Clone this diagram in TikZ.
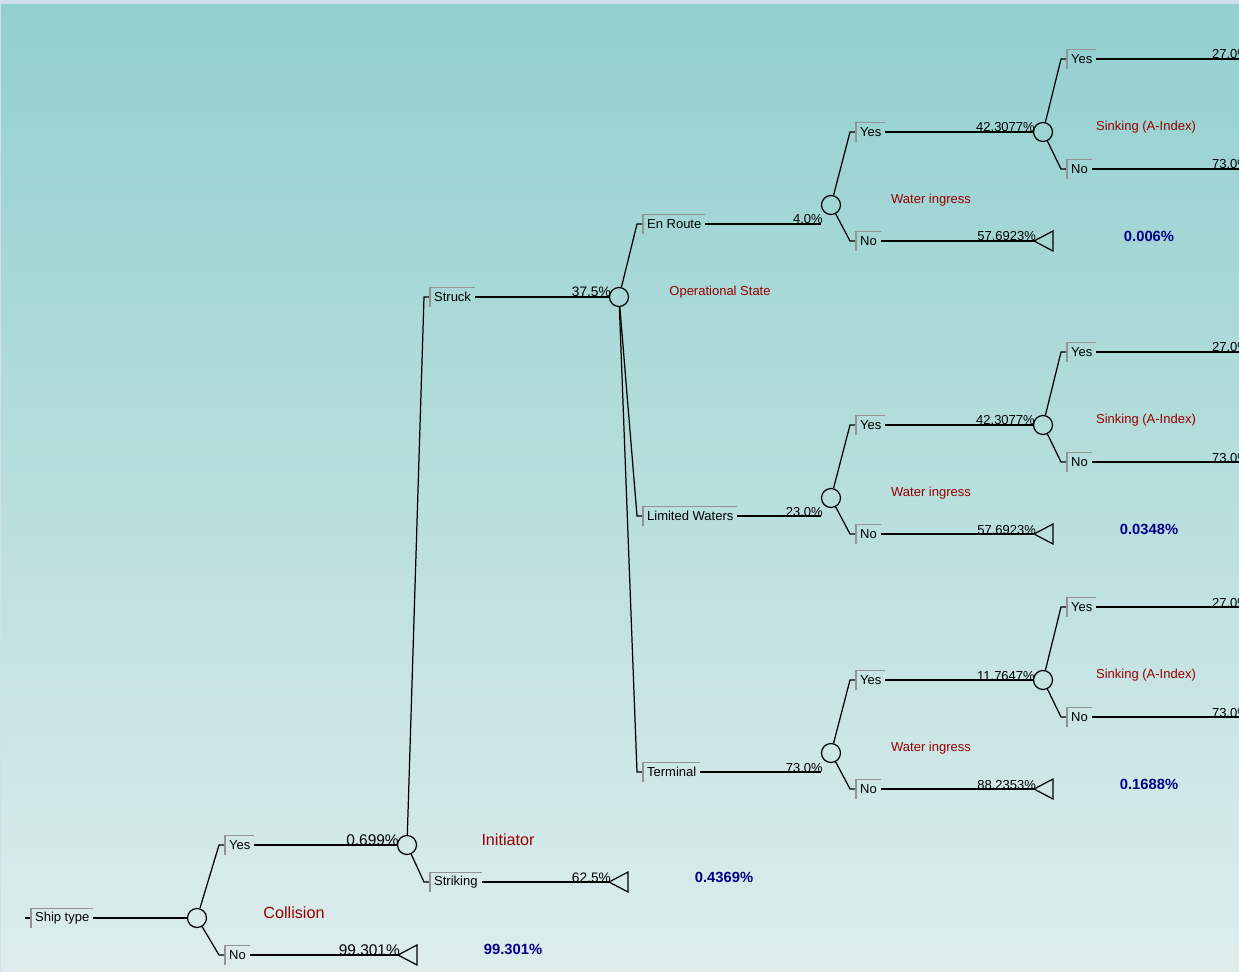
\documentclass[tikz,border=0pt]{standalone}
\usepackage{fontspec}
\setmainfont{Liberation Sans}
\definecolor{bgtop}{HTML}{92CFCF}
\definecolor{bgbot}{HTML}{DDEDEC}
\definecolor{frame}{HTML}{D0DFEE}
\definecolor{evred}{HTML}{990000}
\definecolor{resblue}{HTML}{000088}
\tikzset{
  chance/.style={circle, draw, minimum size=0.38cm, inner sep=0pt},
  brlabel/.style={font=\fontsize{7.4}{8}\selectfont, inner xsep=2pt, inner ysep=0pt, minimum height=0.36cm, anchor=west},
  bracket/.style={draw=gray!85, line width=0.6pt},
  pct/.style={font=\fontsize{7.4}{8}\selectfont, inner sep=0.3pt, anchor=base east, xshift=1.7pt},
  bigpct/.style={pct, font=\fontsize{8.8}{10}\selectfont},
  event/.style={text=evred, font=\fontsize{7.4}{9}\selectfont},
  bigevent/.style={event, font=\fontsize{9.2}{11}\selectfont},
  result/.style={text=resblue, font=\bfseries\fontsize{8.4}{10}\selectfont},
}
\begin{document}
\begin{tikzpicture}[x=0.02cm, y=-0.02cm, line width=0.7pt]
  \useasboundingbox (0,0) rectangle (1239,972);
  \clip (0,0) rectangle (1239,972);
  \fill[top color=bgtop, bottom color=bgbot] (0,0) rectangle (1239,972);
  \fill[frame] (0,0) rectangle (1239,4);
  \fill[frame] (0,0) rectangle (1,972);

  % collision
  \node[brlabel] (ship) at (31,918) {Ship type};
  \node[chance] (c0) at (197,918) {};
  \node[brlabel] (cy) at (225,845) {Yes};
  \node[brlabel] (cn) at (225,955) {No};
  \node[chance] (c1) at (407,845) {};
  \coordinate (t0) at (398,955);
  \draw ([xshift=-1.2mm]ship.west) -- (ship.west);
  \draw (ship) -- (c0);
  \draw (c0) -- ([xshift=-1.2mm]cy.west) -- (cy.west);
  \draw (c0) -- ([xshift=-1.2mm]cn.west) -- (cn.west);
  \draw (cy) -- (c1);
  \draw (cn) -- (t0);
  \draw (t0) -- ++(19,-10) -- ++(0,20) -- cycle;
  \node[bigpct] (pcy) at (c1.west) {0.699\%};
  \node[bigpct] (pcn) at (t0) {99.301\%};
  \node[bigevent] (ev0) at (294,913) {Collision};
  \node[result] (r0) at (513,949) {99.301\%};

  % initiator
  \node[brlabel] (struck) at (430,297) {Struck};
  \node[brlabel] (striking) at (430,882) {Striking};
  \node[chance] (c2) at (619,297) {};
  \coordinate (t1) at (609,882);
  \draw (c1) -- ([xshift=-1.2mm]struck.west) -- (struck.west);
  \draw (c1) -- ([xshift=-1.2mm]striking.west) -- (striking.west);
  \draw (struck) -- (c2);
  \draw (striking) -- (t1);
  \draw (t1) -- ++(19,-10) -- ++(0,20) -- cycle;
  \node[pct, font=\fontsize{7.8}{9}\selectfont] (pst) at (c2.west) {37.5\%};
  \node[pct, font=\fontsize{7.8}{9}\selectfont] (psg) at (t1) {62.5\%};
  \node[bigevent] (ev1) at (508,840) {Initiator};
  \node[result] (r1) at (724,877) {0.4369\%};

  % operational state
  \node[brlabel] (enr) at (643,224) {En Route};
  \node[brlabel] (lim) at (643,516) {Limited Waters};
  \node[brlabel] (trm) at (643,772) {Terminal};
  \foreach \b in {enr,lim,trm}
    \draw (c2) -- ([xshift=-1.2mm]\b.west) -- (\b.west);
  \node[event] (ev2) at (720,292) {Operational State};

  % water ingress and sinking, one block per state
  \foreach \br/\c/\k/\pb/\py/\pn/\res in {enr/205/1/4.0/42.3077/57.6923/0.006,
      lim/498/2/23.0/42.3077/57.6923/0.0348, trm/753/3/73.0/11.7647/88.2353/0.1688} {
    \node[chance] (w\k) at (831,\c) {};
    \draw (\br.east) -- (\br.east -| w\k.west) node[pct] (pb\k) {\pb\%};
    \node[brlabel] (wy\k) at (856,\c-73) {Yes};
    \node[brlabel] (wn\k) at (856,\c+36) {No};
    \node[chance] (s\k) at (1043,\c-73) {};
    \coordinate (tw\k) at (1034,\c+36);
    \draw (w\k) -- ([xshift=-1.2mm]wy\k.west) -- (wy\k.west);
    \draw (w\k) -- ([xshift=-1.2mm]wn\k.west) -- (wn\k.west);
    \draw (wy\k) -- (s\k);
    \draw (wn\k) -- (tw\k);
    \draw (tw\k) -- ++(19,-10) -- ++(0,20) -- cycle;
    \node[pct] (py\k) at (s\k.west) {\py\%};
    \node[pct] (pn\k) at (tw\k) {\pn\%};
    \node[brlabel] (sy\k) at (1067,\c-146) {Yes};
    \node[brlabel] (sn\k) at (1067,\c-36) {No};
    \coordinate (ey\k) at (1250,\c-146);
    \coordinate (en\k) at (1250,\c-36);
    \draw (s\k) -- ([xshift=-1.2mm]sy\k.west) -- (sy\k.west);
    \draw (s\k) -- ([xshift=-1.2mm]sn\k.west) -- (sn\k.west);
    \draw (sy\k) -- (ey\k);
    \draw (sn\k) -- (en\k);
    \node[pct, anchor=base west] (qy\k) at (1208,\c-146) {27.0\%};
    \node[pct, anchor=base west] (qn\k) at (1208,\c-36) {73.0\%};
    \node[event] (evw\k) at (931,\c-5) {Water ingress};
    \node[event] (evs\k) at (1146,\c-78) {Sinking (A-Index)};
    \node[result] (rw\k) at (1149,\c+31) {\res\%};
  }

  % grey brackets on the branch labels
  \foreach \n in {ship,cy,cn,struck,striking,enr,lim,trm,wy1,wn1,sy1,sn1,wy2,wn2,sy2,sn2,wy3,wn3,sy3,sn3}
    \draw[bracket] (\n.south west) |- (\n.north east);
\end{tikzpicture}
\end{document}
